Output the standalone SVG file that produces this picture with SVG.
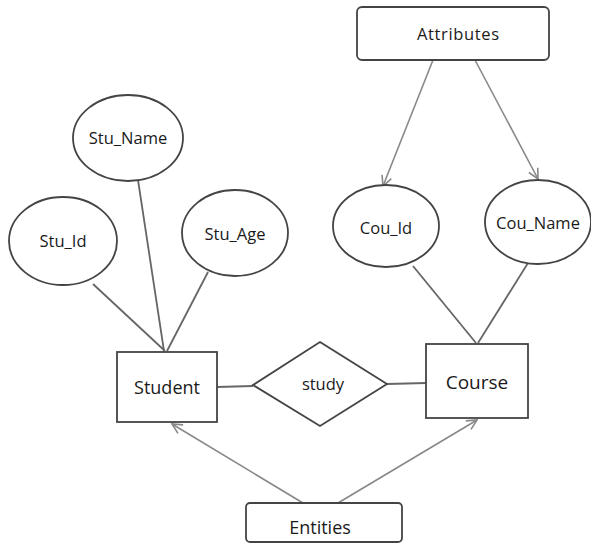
<svg xmlns="http://www.w3.org/2000/svg" width="591" height="546" viewBox="0 0 591 546">
<defs>
<style>
.sh{fill:#fff;stroke:#444;stroke-width:1.8}
.ln{stroke:#666;stroke-width:1.8;fill:none}
.ar{stroke:#888;stroke-width:1.6;fill:none;marker-end:url(#ah)}
text{font-family:"Open Sans","Liberation Sans",sans-serif;fill:#1a1a1a;text-anchor:middle;dominant-baseline:central}
.s{font-size:16.5px}
.m{font-size:18px}
</style>
<marker id="ah" viewBox="0 0 12 12" refX="11" refY="6" markerWidth="12" markerHeight="12" markerUnits="userSpaceOnUse" orient="auto">
<path d="M1,1 L11,6 L1,11" fill="none" stroke="#888" stroke-width="1.6"/>
</marker>
</defs>
<rect width="591" height="546" fill="#fff"/>
<g id="connectors">
<line class="ln" x1="93" y1="284" x2="165" y2="351"/>
<line class="ln" x1="138" y1="180" x2="164" y2="351"/>
<line class="ln" x1="208" y1="272" x2="167" y2="351"/>
<line class="ln" x1="413" y1="266" x2="476" y2="343"/>
<line class="ln" x1="528" y1="263" x2="478" y2="343"/>
<line class="ln" x1="217" y1="387" x2="253" y2="386"/>
<line class="ln" x1="387" y1="384" x2="426" y2="383"/>
<line class="ar" x1="433" y1="60" x2="383" y2="186"/>
<line class="ar" x1="475" y1="60" x2="538" y2="179"/>
<line class="ar" x1="303" y1="503" x2="172" y2="424"/>
<line class="ar" x1="338" y1="503" x2="477" y2="420"/>
</g>
<g id="attributes">
<rect class="sh" x="357" y="7" width="192" height="53" rx="5"/>
<text class="s" x="458" y="33" textLength="82">Attributes</text>
</g>
<g id="stu_name">
<ellipse class="sh" cx="128" cy="138" rx="55" ry="43"/>
<text class="s" x="128" y="137">Stu_Name</text>
</g>
<g id="stu_id">
<ellipse class="sh" cx="63" cy="241" rx="54" ry="44"/>
<text class="s" x="63" y="240">Stu_Id</text>
</g>
<g id="stu_age">
<ellipse class="sh" cx="235" cy="233" rx="53" ry="43"/>
<text class="s" x="235" y="233">Stu_Age</text>
</g>
<g id="cou_id">
<ellipse class="sh" cx="386" cy="226" rx="53" ry="41"/>
<text class="s" x="386" y="227">Cou_Id</text>
</g>
<g id="cou_name">
<ellipse class="sh" cx="538" cy="222" rx="53" ry="42"/>
<text class="s" x="538" y="222">Cou_Name</text>
</g>
<g id="student">
<rect class="sh" x="117" y="352" width="100" height="70"/>
<text class="m" x="167" y="387">Student</text>
</g>
<g id="study">
<polygon class="sh" points="320,342 387,384 320,426 253,385"/>
<text class="s" x="323" y="383">study</text>
</g>
<g id="course">
<rect class="sh" x="426" y="344" width="102" height="74"/>
<text class="m" x="477" y="382" style="font-size:19px">Course</text>
</g>
<g id="entities">
<rect class="sh" x="246" y="503" width="156" height="39" rx="4"/>
<text class="m" x="320" y="527">Entities</text>
</g>
</svg>
